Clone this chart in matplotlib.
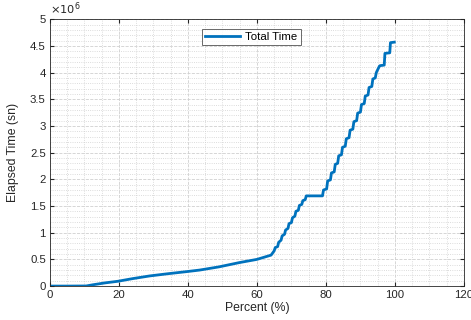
import matplotlib
matplotlib.use("Agg")
import matplotlib.pyplot as plt
from matplotlib.ticker import MultipleLocator, FuncFormatter

plt.rcParams['font.family'] = ['Liberation Sans', 'DejaVu Sans']

# Percent completed vs elapsed time (x1e6 sn)
percent = [0, 5, 10.5, 12.5, 16, 19.7, 24, 28.9, 34, 39.5, 43.4, 49, 54.9, 60, 64.1,
           65.0, 65.3, 66.0, 66.3, 67.0, 67.3, 68.0, 68.3, 69.0, 69.3, 70.0, 70.3,
           71.0, 71.3, 72.0, 72.3, 73.0, 73.3, 74.0, 74.3, 79.0,
           79.3, 80.2, 80.5, 81.3, 81.6, 82.4, 82.7, 83.4, 83.7, 84.5, 84.8, 85.6,
           85.9, 86.7, 87.0, 87.8, 88.1, 88.9, 89.2, 90.0, 90.3, 91.1, 91.4, 92.2,
           92.5, 93.3, 93.6, 94.3, 94.6, 95.5, 95.7, 96.9, 97.1, 98.5, 98.7, 99.8]
elapsed = [0, 0, 0.002, 0.025, 0.06, 0.09, 0.14, 0.19, 0.23, 0.27, 0.30, 0.36, 0.44, 0.50, 0.58,
           0.66, 0.72, 0.74, 0.82, 0.86, 0.94, 0.97, 1.05, 1.08, 1.17, 1.19, 1.28,
           1.31, 1.40, 1.42, 1.51, 1.53, 1.60, 1.62, 1.69, 1.69,
           1.80, 1.82, 1.97, 1.99, 2.12, 2.14, 2.28, 2.30, 2.44, 2.46, 2.60, 2.62,
           2.76, 2.78, 2.92, 2.94, 3.08, 3.10, 3.24, 3.26, 3.40, 3.42, 3.56, 3.58,
           3.72, 3.74, 3.88, 3.90, 4.00, 4.12, 4.13, 4.14, 4.36, 4.37, 4.56, 4.57]
elapsed = [v * 1e6 for v in elapsed]

fig = plt.figure(figsize=(4.71, 3.2), dpi=100)
ax = fig.add_axes([0.106, 0.106, 0.879, 0.834])

ax.plot(percent, elapsed, color='#0072BD', lw=2, label='Total Time')

ax.set_xlim(0, 120)
ax.set_ylim(0, 5e6)
ax.xaxis.set_major_locator(MultipleLocator(20))
ax.xaxis.set_minor_locator(MultipleLocator(5))
ax.yaxis.set_major_locator(MultipleLocator(0.5e6))
ax.yaxis.set_minor_locator(MultipleLocator(0.1e6))
ax.yaxis.set_major_formatter(FuncFormatter(lambda v, p: '%g' % (v / 1e6)))

ax.grid(which='major', color='#d0d0d0', ls='--', lw=0.6)
ax.grid(which='minor', color='#d0d0d0', ls=':', lw=0.6)
ax.set_axisbelow(True)
ax.tick_params(which='both', direction='in', top=True, right=True,
               colors='#262626', labelsize=8.2, length=3, pad=3)
ax.tick_params(which='minor', length=0)
for s in ax.spines.values():
    s.set_color('#262626')
    s.set_linewidth(0.6)

ax.set_xlabel('Percent (%)', fontsize=8.8, color='#262626', labelpad=1)
ax.set_ylabel('Elapsed Time (sn)', fontsize=8.8, color='#262626', labelpad=8)
ax.text(0.0, 1.01, r'$\times10^{6}$', transform=ax.transAxes, fontsize=8.2,
        color='#262626', ha='left', va='bottom')

leg = ax.legend(loc='upper center', bbox_to_anchor=(0.487, 0.965), fontsize=8.2,
                frameon=True, fancybox=False, handlelength=3.0, borderpad=0.3,
                handletextpad=0.5, borderaxespad=0)
leg.get_frame().set_edgecolor('#262626')
leg.get_frame().set_linewidth(0.6)

fig.savefig('out.png', dpi=100)
